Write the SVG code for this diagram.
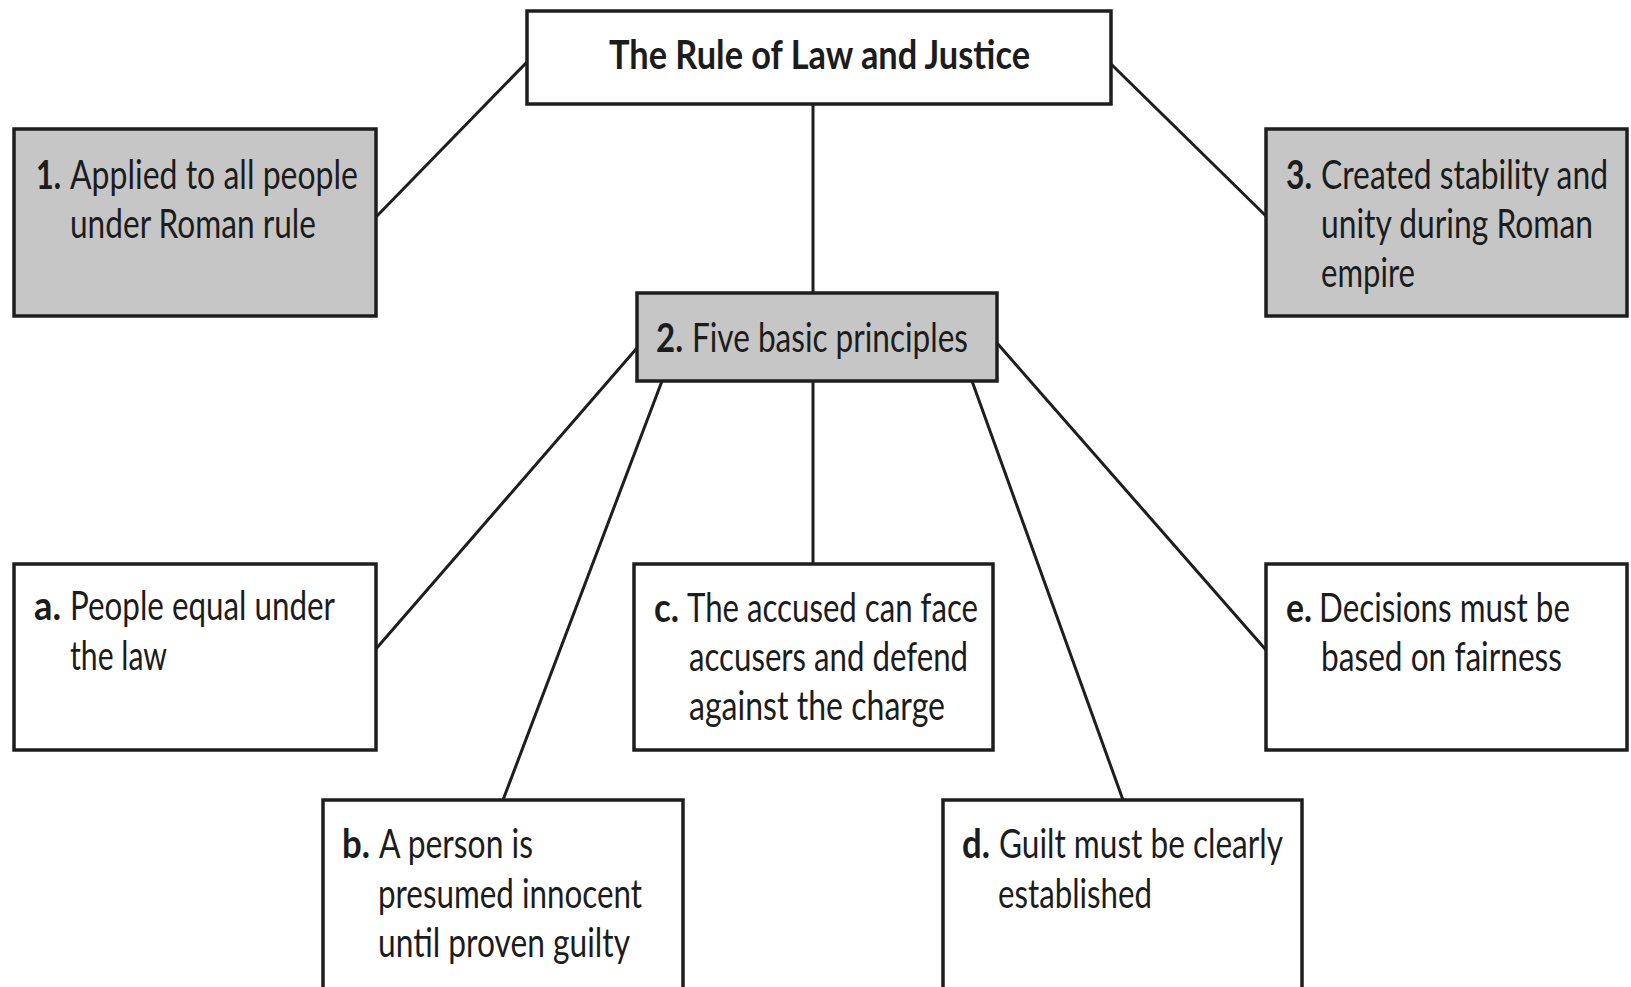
<svg xmlns="http://www.w3.org/2000/svg" width="1631" height="987" viewBox="0 0 1631 987">
<style>
.box{fill:#ffffff;stroke:#1e1e1e;stroke-width:3.5}
.gray{fill:#c6c6c6}
.t{font-family:Lato,"Open Sans","Liberation Sans",sans-serif;font-size:41px;fill:#1c1c1c}
.b{font-weight:700}
.title{font-weight:700}
.conn line{stroke:#1e1e1e;stroke-width:3;stroke-linecap:round}
</style>
<rect width="1631" height="987" fill="#ffffff"/>
<g class="conn" id="connectors">
<line x1="527" y1="62" x2="375" y2="218"/>
<line x1="1111" y1="64" x2="1266" y2="216"/>
<line x1="813" y1="104" x2="813" y2="293"/>
<line x1="637" y1="348" x2="375" y2="650"/>
<line x1="662" y1="381" x2="503" y2="800"/>
<line x1="813" y1="381" x2="813" y2="563"/>
<line x1="972" y1="381" x2="1123" y2="800"/>
<line x1="997" y1="343" x2="1266" y2="650"/>
</g>
<g id="title">
<rect class="box" x="527" y="11" width="584" height="93"/>
<text class="t title" x="609" y="69" textLength="421" lengthAdjust="spacingAndGlyphs">The Rule of Law and Justice</text>
</g>
<g id="n1">
<rect class="box gray" x="14" y="129" width="362" height="187"/>
<text class="t b" x="36" y="189" textLength="25" lengthAdjust="spacingAndGlyphs">1.</text>
<text class="t" x="70" y="189" textLength="288" lengthAdjust="spacingAndGlyphs">Applied to all people</text>
<text class="t" x="70" y="238" textLength="246" lengthAdjust="spacingAndGlyphs">under Roman rule</text>
</g>
<g id="n3">
<rect class="box gray" x="1266" y="129" width="361" height="187"/>
<text class="t b" x="1286" y="189" textLength="26" lengthAdjust="spacingAndGlyphs">3.</text>
<text class="t" x="1321" y="189" textLength="287" lengthAdjust="spacingAndGlyphs">Created stability and</text>
<text class="t" x="1321" y="238" textLength="272" lengthAdjust="spacingAndGlyphs">unity during Roman</text>
<text class="t" x="1321" y="287" textLength="94" lengthAdjust="spacingAndGlyphs">empire</text>
</g>
<g id="n2">
<rect class="box gray" x="637" y="293" width="360" height="88"/>
<text class="t b" x="656" y="352" textLength="27" lengthAdjust="spacingAndGlyphs">2.</text>
<text class="t" x="692" y="352" textLength="276" lengthAdjust="spacingAndGlyphs">Five basic principles</text>
</g>
<g id="na">
<rect class="box" x="14" y="564" width="362" height="186"/>
<text class="t b" x="34" y="620" textLength="27" lengthAdjust="spacingAndGlyphs">a.</text>
<text class="t" x="70" y="620" textLength="265" lengthAdjust="spacingAndGlyphs">People equal under</text>
<text class="t" x="70" y="670" textLength="97" lengthAdjust="spacingAndGlyphs">the law</text>
</g>
<g id="nb">
<rect class="box" x="323" y="800" width="360" height="190"/>
<text class="t b" x="342" y="858" textLength="28" lengthAdjust="spacingAndGlyphs">b.</text>
<text class="t" x="379" y="858" textLength="154" lengthAdjust="spacingAndGlyphs">A person is</text>
<text class="t" x="378" y="908" textLength="264" lengthAdjust="spacingAndGlyphs">presumed innocent</text>
<text class="t" x="378" y="957" textLength="252" lengthAdjust="spacingAndGlyphs">until proven guilty</text>
</g>
<g id="nc">
<rect class="box" x="634" y="564" width="359" height="186"/>
<text class="t b" x="654" y="622" textLength="25" lengthAdjust="spacingAndGlyphs">c.</text>
<text class="t" x="687" y="622" textLength="291" lengthAdjust="spacingAndGlyphs">The accused can face</text>
<text class="t" x="689" y="671" textLength="279" lengthAdjust="spacingAndGlyphs">accusers and defend</text>
<text class="t" x="689" y="720" textLength="256" lengthAdjust="spacingAndGlyphs">against the charge</text>
</g>
<g id="nd">
<rect class="box" x="943" y="800" width="359" height="190"/>
<text class="t b" x="962" y="858" textLength="28" lengthAdjust="spacingAndGlyphs">d.</text>
<text class="t" x="999" y="858" textLength="284" lengthAdjust="spacingAndGlyphs">Guilt must be clearly</text>
<text class="t" x="998" y="908" textLength="154" lengthAdjust="spacingAndGlyphs">established</text>
</g>
<g id="ne">
<rect class="box" x="1266" y="564" width="361" height="186"/>
<text class="t b" x="1286" y="622" textLength="26" lengthAdjust="spacingAndGlyphs">e.</text>
<text class="t" x="1319" y="622" textLength="251" lengthAdjust="spacingAndGlyphs">Decisions must be</text>
<text class="t" x="1321" y="671" textLength="241" lengthAdjust="spacingAndGlyphs">based on fairness</text>
</g>
</svg>
